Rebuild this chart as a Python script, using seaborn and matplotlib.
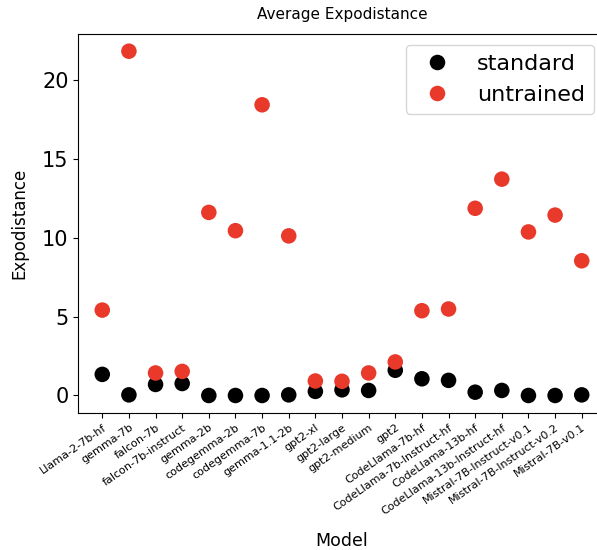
import matplotlib
matplotlib.use("Agg")
import matplotlib.pyplot as plt
import seaborn as sns
import pandas as pd

models = [
    "Llama-2-7b-hf", "gemma-7b", "falcon-7b", "falcon-7b-instruct", "gemma-2b",
    "codegemma-2b", "codegemma-7b", "gemma-1.1-2b", "gpt2-xl", "gpt2-large",
    "gpt2-medium", "gpt2", "CodeLlama-7b-hf", "CodeLlama-7b-Instruct-hf",
    "CodeLlama-13b-hf", "CodeLlama-13b-Instruct-hf", "Mistral-7B-Instruct-v0.1",
    "Mistral-7B-Instruct-v0.2", "Mistral-7B-v0.1",
]
standard = [1.34, 0.04, 0.70, 0.76, 0.0, 0.0, 0.0, 0.04, 0.26, 0.36,
            0.32, 1.60, 1.06, 0.96, 0.21, 0.32, 0.0, 0.0, 0.04]
untrained = [5.42, 21.85, 1.43, 1.53, 11.62, 10.46, 18.45, 10.13, 0.92, 0.90,
             1.43, 2.13, 5.38, 5.49, 11.88, 13.73, 10.38, 11.45, 8.55]

df = pd.DataFrame({
    "Model": models * 2,
    "Expodistance": standard + untrained,
    "type": ["standard"] * len(models) + ["untrained"] * len(models),
})

fig = plt.figure(figsize=(5.97, 5.5), dpi=100)
W, H = 597, 550
left, right, top, bottom = 78.3, 605.7, 34, 412.7
ax = fig.add_axes([left / W, 1 - bottom / H, (right - left) / W, (bottom - top) / H])

sns.scatterplot(data=df, x="Model", y="Expodistance", hue="type",
                palette={"standard": "black", "untrained": "#e8392a"},
                s=125, linewidth=0, ax=ax)

ax.margins(x=0.05, y=0.05)
ax.set_xlim(-0.9, len(models) - 1 + 0.9)
ax.set_title("Average Expodistance", fontsize=11, pad=11)
ax.set_xlabel("Model", fontsize=12.5, labelpad=11)
ax.set_ylabel("Expodistance", fontsize=12, labelpad=10)
ax.set_yticks([0, 5, 10, 15, 20])
ax.tick_params(axis="y", labelsize=15)
ax.tick_params(axis="x", labelsize=8)
plt.setp(ax.get_xticklabels(), rotation=35, ha="right", rotation_mode="anchor")

handles, labels = ax.get_legend_handles_labels()
ax.legend(handles, labels, fontsize=16, loc="upper right",
          bbox_to_anchor=(594 / W, 1 - 45 / H), bbox_transform=fig.transFigure,
          borderaxespad=0)

fig.savefig("out.png", dpi=100)
